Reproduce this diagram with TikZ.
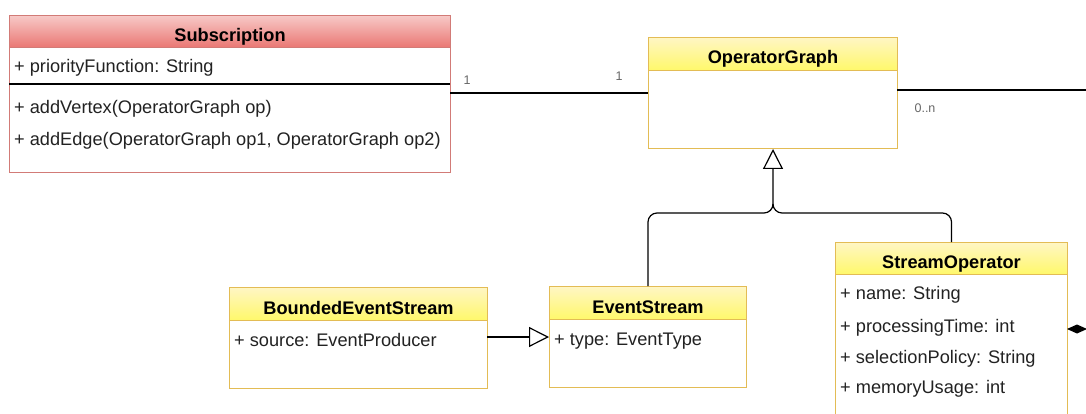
\documentclass[tikz,border=0pt]{standalone}
\usepackage{fontspec}
\setmainfont{Liberation Sans}
\usetikzlibrary{arrows.meta}
\definecolor{redline}{HTML}{D27B77}
\definecolor{redtop}{HTML}{F7C9C7}
\definecolor{redbot}{HTML}{EA7773}
\definecolor{yelline}{HTML}{E3BC55}
\definecolor{yeltop}{HTML}{FFF6C4}
\definecolor{yelbot}{HTML}{FFF86A}
\definecolor{txt}{HTML}{222222}
\definecolor{lbl}{HTML}{666666}
\begin{document}
\begin{tikzpicture}[x=1pt,y=-1pt,
  redbox/.style={draw=redline, line width=1pt, fill=white, anchor=north west, inner sep=0},
  yelbox/.style={draw=yelline, line width=1pt, fill=white, anchor=north west, inner sep=0},
  redhead/.style={draw=redline, line width=1pt, top color=redtop, bottom color=redbot, anchor=north west, inner sep=0, font=\fontsize{18.2}{21}\selectfont\bfseries, text height=20pt, text depth=0pt},
  yelhead/.style={draw=yelline, line width=1pt, top color=yeltop, bottom color=yelbot, anchor=north west, inner sep=0, font=\fontsize{18.2}{21}\selectfont\bfseries, text height=20pt, text depth=0pt},
  attr/.style={anchor=base west, inner sep=0, text=txt, font=\fontsize{18.2}{21}\selectfont},
  mult/.style={anchor=center, inner sep=0, text=lbl, font=\fontsize{12.5}{14}\selectfont},
  conn/.style={line width=1.2pt, draw=black},
  gen/.style={conn, -{Triangle[open, length=20pt, width=20pt, fill=white]}},
]
\useasboundingbox (0,0) rectangle (1086,414);
\clip (0,0) rectangle (1086,414);

% Subscription
\node[redbox, minimum width=441pt, minimum height=157pt] (sub) at (9,15) {};
\node[redhead, minimum width=441pt, minimum height=32pt] (subh) at (9,15) {Subscription};
\node[attr] (suba1) at (14,73) {+ priorityFunction: String};
\coordinate (sepL) at (9,84);
\coordinate (sepR) at (450,84);
\draw[line width=1.2pt] (sepL) -- (sepR);
\node[attr] (subm1) at (14,114) {+ addVertex(OperatorGraph op)};
\node[attr] (subm2) at (14,146) {+ addEdge(OperatorGraph op1, OperatorGraph op2)};

% OperatorGraph
\node[yelbox, minimum width=249pt, minimum height=111pt] (og) at (648,37) {};
\node[yelhead, minimum width=249pt, minimum height=33pt] (ogh) at (648,37) {OperatorGraph};

% BoundedEventStream
\node[yelbox, minimum width=258pt, minimum height=101pt] (bes) at (229,287) {};
\node[yelhead, minimum width=258pt, minimum height=33pt] (besh) at (229,287) {BoundedEventStream};
\node[attr] (besa1) at (234,346) {+ source: EventProducer};

% EventStream
\node[yelbox, minimum width=197pt, minimum height=101pt] (es) at (549,286) {};
\node[yelhead, minimum width=197pt, minimum height=33pt] (esh) at (549,286) {EventStream};
\node[attr] (esa1) at (554,345) {+ type: EventType};

% StreamOperator
\node[yelbox, minimum width=232pt, minimum height=200pt] (so) at (835,242) {};
\node[yelhead, minimum width=232pt, minimum height=32pt] (soh) at (835,242) {StreamOperator};
\node[attr] (soa1) at (840,299) {+ name: String};
\node[attr] (soa2) at (840,332) {+ processingTime: int};
\node[attr] (soa3) at (840,363) {+ selectionPolicy: String};
\node[attr] (soa4) at (840,393) {+ memoryUsage: int};

% association Subscription -- OperatorGraph
\coordinate (aS) at (450,93);
\coordinate (aO) at (648,93);
\draw[conn] (aS) -- (aO);
\node[mult] (m1) at (467,80) {1};
\node[mult] (m2) at (619,76) {1};

% OperatorGraph to the right (off picture)
\coordinate (ogR) at (897,90);
\coordinate (offT) at (1100,90);
\draw[conn] (ogR) -- (offT);
\node[mult] (m3) at (925,108) {0..n};

% composition at StreamOperator (off picture)
\coordinate (soR) at (1067,329);
\coordinate (offR) at (1110,329);
\draw[conn, {Diamond[length=20pt, width=9pt]}-] (soR) -- (offR);

% generalizations to OperatorGraph
\coordinate (J) at (og.south |- 0,213);
\draw[gen, rounded corners=9pt] (es.north -| 648,0) |- (J) -- (og.south);
\draw[conn, rounded corners=9pt] (so.north) |- (J) -- ++(0,-8);

% generalization BoundedEventStream -> EventStream
\coordinate (bR) at (487,337);
\coordinate (eL) at (549,337);
\draw[gen] (bR) -- (eL);
\end{tikzpicture}
\end{document}
